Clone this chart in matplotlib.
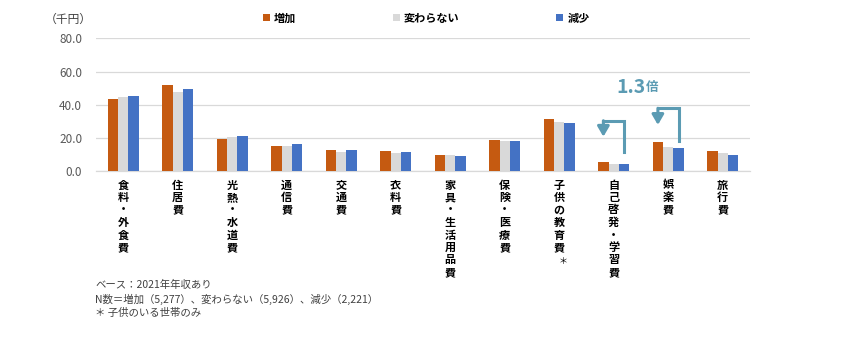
import matplotlib
matplotlib.use("Agg")
import matplotlib.pyplot as plt
import numpy as np

plt.rcParams['font.family'] = ['Noto Sans CJK JP', 'DejaVu Sans']

categories = ["食料・外食費", "住居費", "光熱・水道費", "通信費", "交通費", "衣料費",
              "家具・生活用品費", "保険・医療費", "子供の教育費＊", "自己啓発・学習費", "娯楽費", "旅行費"]
series_names = ["増加", "変わらない", "減少"]
increase = [43.2, 52.1, 19.6, 15.4, 12.8, 12.2, 10.0, 18.6, 31.7, 5.6, 17.8, 12.2]
unchanged = [44.7, 47.7, 20.6, 15.4, 11.6, 11.2, 9.8, 18.2, 29.7, 4.2, 14.6, 10.8]
decrease = [45.0, 49.3, 21.2, 16.4, 12.8, 11.6, 9.0, 18.2, 29.3, 4.2, 14.0, 10.0]
yticks = [0, 20, 40, 60, 80]
footnotes = ["ベース：2021年年収あり",
             "N数＝増加（5,277）、変わらない（5,926）、減少（2,221）",
             "＊ 子供のいる世帯のみ"]
ratio_label = "1.3"
ratio_unit = "倍"

colors = ["#C55A11", "#D9D9D9", "#4472C4"]
teal = "#5B9BB3"

fig = plt.figure(figsize=(8.46, 3.4), dpi=100)
ax = fig.add_axes([96/846, 1-171.3/340, (750-96)/846, (171.3-38.3)/340])

x = np.arange(len(categories))
w = 0.19
for k, (vals, c, name) in enumerate(zip([increase, unchanged, decrease], colors, series_names)):
    ax.bar(x + (k-1)*w, vals, width=w, color=c, label=name, zorder=3)

ax.set_xlim(-0.5, len(categories)-0.5)
ax.set_ylim(0, 80)
ax.set_yticks(yticks)
ax.set_yticklabels([f"{v:.1f}" for v in yticks], color="#595959", fontsize=8.5)
ax.tick_params(axis='y', length=0, pad=10)
ax.set_xticks([])
ax.grid(axis='y', color="#D9D9D9", linewidth=0.9, zorder=0)
for s in ['top', 'right', 'left']:
    ax.spines[s].set_visible(False)
ax.spines['bottom'].set_color("#D9D9D9")
ax.spines['bottom'].set_linewidth(0.9)

# vertical category labels, one character per row
pt = 72/100  # points per pixel
for i, cat in enumerate(categories):
    for k, ch in enumerate(cat):
        dy = -(13.7 + 12.5*k) * pt
        if ch in "*＊":
            ax.annotate("＊", xy=(i, 0), xycoords=('data', 'axes fraction'),
                        xytext=(4*pt, dy - 1.5*pt), textcoords='offset points', ha='center', va='center',
                        fontsize=6.5, color='black')
        else:
            ax.annotate(ch, xy=(i, 0), xycoords=('data', 'axes fraction'),
                        xytext=(0, dy), textcoords='offset points', ha='center', va='center',
                        fontsize=8, fontweight='bold', color='black')

# unit label
fig.text(45/846, 1-19/340, "（千円）", fontsize=8.5, color="#404040", ha='left', va='center')

# legend
leg = ax.legend(loc='center', bbox_to_anchor=(0.505, 1.15), ncol=3, frameon=False,
                handlelength=0.6, handleheight=0.6, handletextpad=0.4, columnspacing=8.7,
                prop={'size': 8, 'weight': 'bold'})

# brackets
def bracket(i, bottom, top, tip):
    xb = i + w
    xo = i - w
    ax.plot([xb, xb, xo], [bottom, top, top], color=teal, linewidth=2.2,
            solid_joinstyle='miter', zorder=4, clip_on=False)
    ax.annotate("", xy=(xo, tip), xytext=(xo, top),
                arrowprops=dict(arrowstyle='-|>,head_width=0.35,head_length=0.6',
                                color=teal, linewidth=2.2, shrinkA=0, shrinkB=0), zorder=4)

bracket(9, decrease[9] + 7.6, 30.4, 20.8)
bracket(10, decrease[10] + 4.4, 37.9, 27.9)

t1 = ax.text(9.04, 46.9, ratio_label, fontsize=14, fontweight='bold', color=teal, ha='left', va='baseline')
ax.annotate(ratio_unit, xy=(1, 0), xycoords=t1, xytext=(0.5, 2.2), textcoords='offset points',
            fontsize=9, fontweight='bold', color=teal, ha='left', va='bottom')

# footnotes
for j, t in enumerate(footnotes):
    fig.text(95/846, 1-(285+14*j)/340, t, fontsize=7.5, color="#404040", ha='left', va='center')

fig.savefig("out.png", dpi=100)
